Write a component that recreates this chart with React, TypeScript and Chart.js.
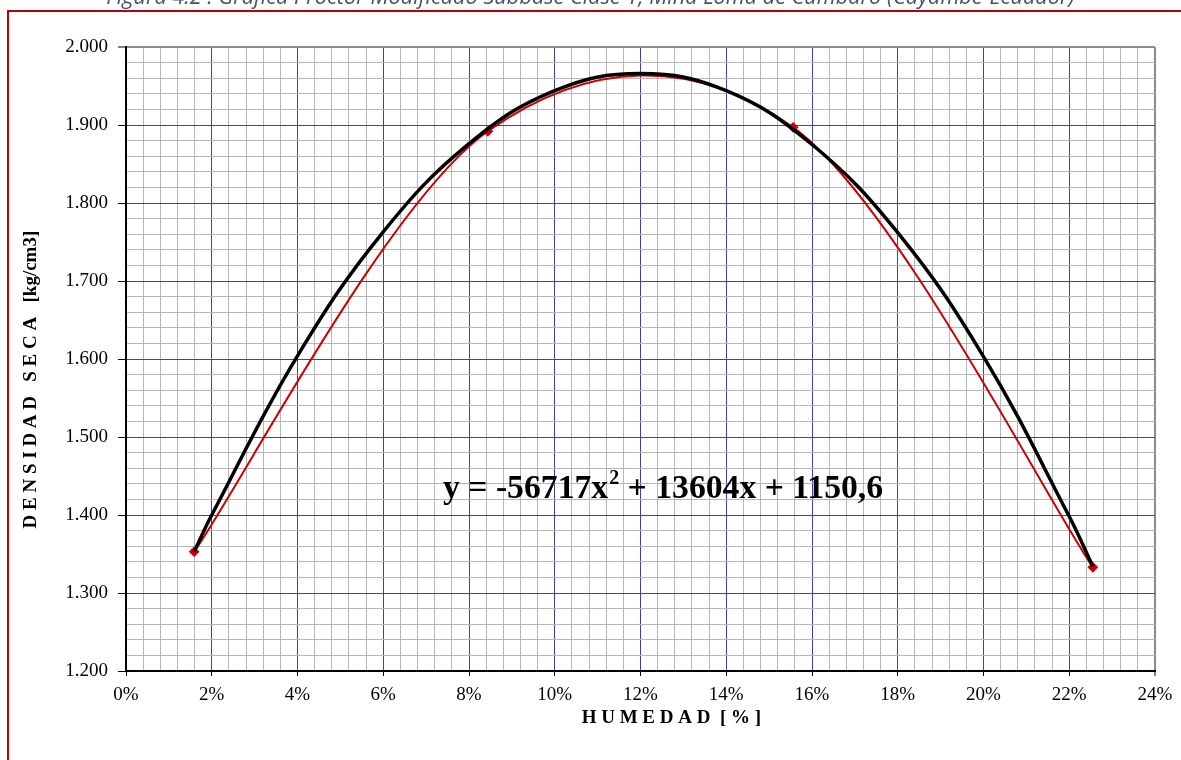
import React, { useEffect, useRef } from 'react';
import { Chart, registerables } from 'chart.js';

Chart.register(...registerables);

// ---- data ----
const humidity = [1.59, 8.44, 15.56, 22.55]; // %
const density = [1353, 1892, 1897, 1333]; // kg/m3 (shown as 1.xxx)

const trendHumidity = [1.59, 2, 4, 6, 8, 10, 12, 14, 16, 18, 20, 22, 22.55];
const trendDensity = [1353, 1400, 1604, 1763, 1876, 1944, 1966, 1944, 1875, 1762, 1603, 1398, 1334];

const xMajorTicks = [0, 2, 4, 6, 8, 10, 12, 14, 16, 18, 20, 22, 24];
const yMajorTicks = [1200, 1300, 1400, 1500, 1600, 1700, 1800, 1900, 2000];

const caption = 'Figura 4.2 : Gráfica Proctor Modificado Subbase Clase 1, Mina Loma de Cumbaro (Cayambe-Ecuador)';
const xTitle = 'H U M E D A D  [ % ]';
const yTitle = 'D E N S I D A D   S E C A   [kg/cm3]';
const eqPart1 = 'y = -56717x';
const eqSup = '2';
const eqPart2 = ' + 13604x + 1150,6';

const isMajor = (list: number[], v: number) => list.some((t) => Math.abs(t - v) < 1e-6);
const fmtDensity = (v: number) => {
  const r = Math.round(v);
  return Math.floor(r / 1000) + '.' + String(r % 1000).padStart(3, '0');
};

const SERIF = '"Liberation Serif", "Times New Roman", serif';
const MAJOR_BLUE = 'rgb(64, 64, 176)';
const MINOR_GRAY = '#b6b6b6';
const EDGE_GRAY = '#8c8c8c';

// Spreadsheet-style smoothing (control points at 1/6 of the neighbour span)
const smoothPlugin = {
  id: 'spreadsheetSmooth',
  beforeDatasetDraw(chart: any, args: any) {
    const ds = chart.data.datasets[args.index];
    if (!ds || !ds.spreadsheetSmooth) return;
    const meta = args.meta;
    meta.dataset.updateControlPoints(chart.chartArea, meta.iScale.axis);
    const pts = meta.data;
    const n = pts.length;
    for (let i = 0; i < n; i++) {
      const p = pts[i];
      const prev = pts[Math.max(0, i - 1)];
      const next = pts[Math.min(n - 1, i + 1)];
      const dx = (next.x - prev.x) / 6;
      const dy = (next.y - prev.y) / 6;
      p.cp1x = p.x - dx;
      p.cp1y = p.y - dy;
      p.cp2x = p.x + dx;
      p.cp2y = p.y + dy;
    }
  },
};

const textPlugin = {
  id: 'customTexts',
  afterDraw(chart: any) {
    const { ctx, chartArea } = chart;
    const w = chartArea.right - chartArea.left;
    const h = chartArea.bottom - chartArea.top;
    ctx.save();
    ctx.fillStyle = '#000';
    // x title
    ctx.font = `bold 19px ${SERIF}`;
    ctx.textAlign = 'center';
    ctx.textBaseline = 'alphabetic';
    ctx.fillText(xTitle, chartArea.left + w * 0.53, chartArea.bottom + 52);
    // y title
    ctx.save();
    ctx.translate(31, chartArea.top + h * 0.533);
    ctx.rotate(-Math.PI / 2);
    ctx.textBaseline = 'middle';
    ctx.fillText(yTitle, 0, 0);
    ctx.restore();
    // equation
    const ex = chartArea.left + 317;
    const ey = chartArea.top + 451;
    ctx.textAlign = 'left';
    ctx.font = `bold 33.7px ${SERIF}`;
    ctx.fillText(eqPart1, ex, ey);
    const w1 = ctx.measureText(eqPart1).width;
    ctx.font = `bold 20px ${SERIF}`;
    ctx.fillText(eqSup, ex + w1 + 1, ey - 14);
    const w2 = ctx.measureText(eqSup).width;
    ctx.font = `bold 33.7px ${SERIF}`;
    ctx.fillText(eqPart2, ex + w1 + w2 + 1, ey);
    ctx.restore();
  },
};

export default function App() {
  const ref = useRef<HTMLCanvasElement | null>(null);

  useEffect(() => {
    if (!ref.current) return;
    const redPts = humidity.map((x, i) => ({ x, y: density[i] }));
    const trendPts = trendHumidity.map((x, i) => ({ x, y: trendDensity[i] }));

    const chart = new Chart(ref.current, {
      type: 'scatter',
      data: {
        datasets: [
          {
            label: 'Polinómica',
            data: trendPts,
            showLine: true,
            borderColor: '#000000',
            borderWidth: 3.5,
            pointRadius: 0,
            tension: 0.4,
            fill: false,
          },
          {
            label: 'Densidad seca',
            data: redPts,
            showLine: true,
            borderColor: '#cc0000',
            backgroundColor: '#cc0000',
            borderWidth: 2,
            pointStyle: 'rectRot',
            pointRadius: 4,
            tension: 0.45,
            fill: false,
            spreadsheetSmooth: true,
          } as any,
        ],
      },
      options: {
        animation: false,
        responsive: false,
        devicePixelRatio: 1,
        layout: { padding: { left: 10, top: 47, right: 26, bottom: 0 } },
        plugins: { legend: { display: false }, tooltip: { enabled: false } },
        scales: {
          x: {
            type: 'linear',
            min: 0,
            max: 24,
            afterFit: (s: any) => {
              s.height = 89;
            },
            ticks: {
              stepSize: 0.4,
              autoSkip: false,
              maxRotation: 0,
              minRotation: 0,
              padding: 8,
              color: '#000',
              font: { family: SERIF, size: 19 },
              callback: (v: any) => (isMajor(xMajorTicks, Number(v)) ? `${Math.round(Number(v))}%` : ''),
            },
            grid: {
              color: (c: any) => {
                const v = c.tick?.value;
                if (v === undefined) return MINOR_GRAY;
                if (Math.abs(v - 24) < 1e-6) return EDGE_GRAY;
                return isMajor(xMajorTicks, v) ? MAJOR_BLUE : MINOR_GRAY;
              },
              lineWidth: (c: any) => (c.tick && Math.abs(c.tick.value - 24) < 1e-6 ? 2 : 1),
              tickLength: 5,
              tickWidth: 1,
              tickColor: (c: any) => (c.tick && isMajor(xMajorTicks, c.tick.value) ? '#000' : 'rgba(0,0,0,0)'),
            },
            border: { display: true, color: '#000', width: 2 },
          },
          y: {
            type: 'linear',
            min: 1200,
            max: 2000,
            afterFit: (s: any) => {
              s.width = 116;
            },
            ticks: {
              stepSize: 20,
              autoSkip: false,
              padding: 10,
              color: '#000',
              font: { family: SERIF, size: 19 },
              callback: (v: any) => (isMajor(yMajorTicks, Number(v)) ? fmtDensity(Number(v)) : ''),
            },
            grid: {
              color: (c: any) => {
                const v = c.tick?.value;
                if (v === undefined) return MINOR_GRAY;
                if (Math.abs(v - 2000) < 1e-6) return EDGE_GRAY;
                return isMajor(yMajorTicks, v) ? MAJOR_BLUE : MINOR_GRAY;
              },
              lineWidth: (c: any) => (c.tick && Math.abs(c.tick.value - 2000) < 1e-6 ? 2 : 1),
              tickLength: 8,
              tickWidth: 1,
              tickColor: (c: any) => (c.tick && isMajor(yMajorTicks, c.tick.value) ? '#000' : 'rgba(0,0,0,0)'),
            },
            border: { display: true, color: '#000', width: 2 },
          },
        },
      },
      plugins: [smoothPlugin, textPlugin],
    });
    return () => chart.destroy();
  }, []);

  return (
    <div
      style={{
        position: 'absolute',
        left: 0,
        top: 0,
        width: 1181,
        height: 760,
        overflow: 'hidden',
        background: '#ffffff',
      }}
    >
      <canvas ref={ref} width={1181} height={760} style={{ position: 'absolute', left: 0, top: 0, width: 1181, height: 760 }} />
      <div
        style={{
          position: 'absolute',
          left: 7,
          top: 10,
          width: 1300,
          height: 900,
          borderLeft: '2px solid #c00000',
          borderTop: '2px solid #c00000',
          pointerEvents: 'none',
        }}
      />
      <div
        style={{
          position: 'absolute',
          left: 0,
          top: -15,
          width: 1181,
          textAlign: 'center',
          whiteSpace: 'nowrap',
          fontFamily: '"Open Sans", sans-serif',
          fontStyle: 'italic',
          fontSize: 21.7,
          lineHeight: '21.7px',
          color: '#44546a',
        }}
      >
        {caption}
      </div>
    </div>
  );
}
